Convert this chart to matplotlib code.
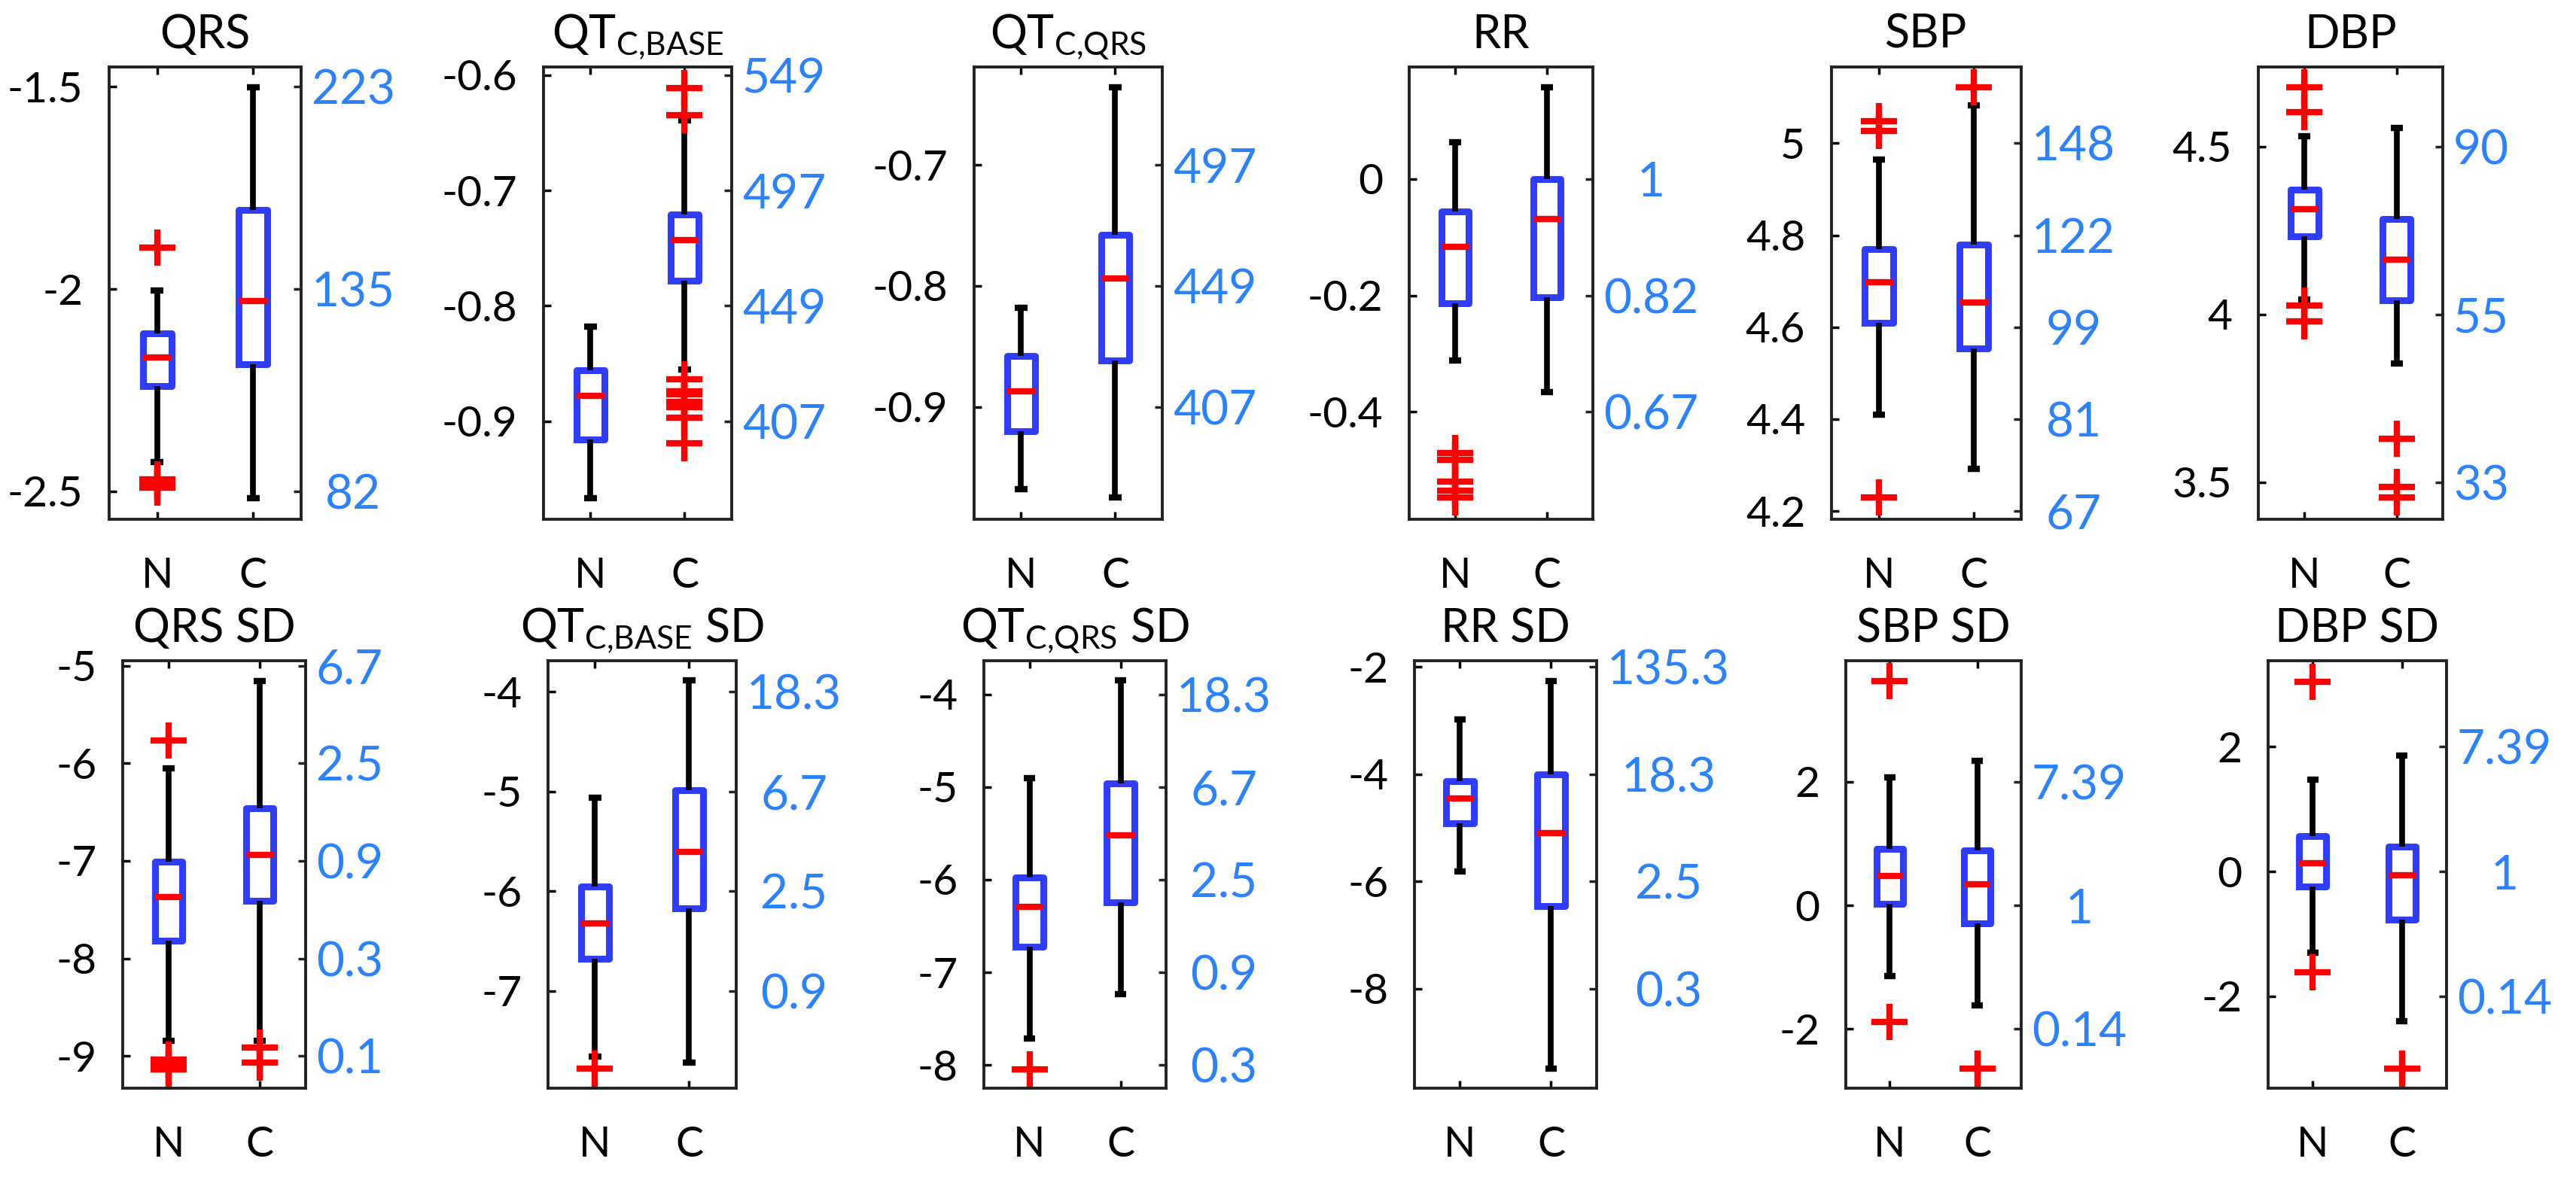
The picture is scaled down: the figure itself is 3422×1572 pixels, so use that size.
import matplotlib
matplotlib.use('Agg')
import matplotlib.pyplot as plt

plt.rcParams['font.family'] = ['Lato', 'DejaVu Sans']
plt.rcParams['mathtext.fontset'] = 'custom'
plt.rcParams['mathtext.rm'] = 'Lato'
plt.rcParams['mathtext.it'] = 'Lato'
plt.rcParams['axes.unicode_minus'] = False

groups = ['N', 'C']

# box stats per group: whisker low, q1, median, q3, whisker high (log scale)
QRS_N = [-2.428, -2.239, -2.169, -2.109, -2.004]
QRS_N_OUT = [-1.897, -2.47, -2.48, -2.49]
QRS_C = [-2.516, -2.186, -2.030, -1.804, -1.501]
QRS_C_OUT = []

QTB_N = [-0.967, -0.916, -0.878, -0.856, -0.818]
QTB_N_OUT = []
QTB_C = [-0.855, -0.778, -0.743, -0.721, -0.639]
QTB_C_OUT = [-0.611, -0.635, -0.864, -0.874, -0.877, -0.883, -0.888, -0.897, -0.919]

QTQ_N = [-0.968, -0.920, -0.887, -0.858, -0.818]
QTQ_N_OUT = []
QTQ_C = [-0.975, -0.862, -0.794, -0.758, -0.636]
QTQ_C_OUT = []

RR_N = [-0.311, -0.213, -0.116, -0.056, 0.063]
RR_N_OUT = [-0.471, -0.482, -0.519, -0.535, -0.546]
RR_C = [-0.366, -0.203, -0.069, 0.0, 0.157]
RR_C_OUT = []

SBP_N = [4.409, 4.610, 4.698, 4.769, 4.965]
SBP_N_OUT = [5.048, 5.027, 4.229]
SBP_C = [4.291, 4.553, 4.653, 4.780, 5.082]
SBP_C_OUT = [5.122]

DBP_N = [4.043, 4.232, 4.312, 4.372, 4.530]
DBP_N_OUT = [4.676, 4.603, 4.025, 3.978]
DBP_C = [3.854, 4.041, 4.163, 4.284, 4.555]
DBP_C_OUT = [3.628, 3.485, 3.453]

QRSSD_N = [-8.849, -7.815, -7.371, -7.004, -6.050]
QRSSD_N_OUT = [-5.768, -9.042, -9.089, -9.139]
QRSSD_C = [-8.849, -7.409, -6.942, -6.463, -5.151]
QRSSD_C_OUT = [-8.915, -9.069]

QTBSD_N = [-7.660, -6.679, -6.321, -5.951, -5.064]
QTBSD_N_OUT = [-7.781]
QTBSD_C = [-7.717, -6.170, -5.604, -4.985, -3.887]
QTBSD_C_OUT = []

QTQSD_N = [-7.710, -6.723, -6.292, -5.972, -4.908]
QTQSD_N_OUT = [-8.043]
QTQSD_C = [-7.234, -6.240, -5.525, -4.960, -3.852]
QTQSD_C_OUT = []

RRSD_N = [-5.811, -4.919, -4.449, -4.133, -2.975]
RRSD_N_OUT = []
RRSD_C = [-9.495, -6.463, -5.095, -4.007, -2.253]
RRSD_C_OUT = []

SBPSD_N = [-1.146, 0.030, 0.470, 0.915, 2.073]
SBPSD_N_OUT = [3.628, -1.896]
SBPSD_C = [-1.616, -0.293, 0.341, 0.896, 2.341]
SBPSD_C_OUT = [-2.652]

DBPSD_N = [-1.297, -0.247, 0.133, 0.567, 1.478]
DBPSD_N_OUT = [3.047, -1.617]
DBPSD_C = [-2.401, -0.772, -0.060, 0.404, 1.864]
DBPSD_C_OUT = [-3.167]

titles = ['QRS', r'QT$_{\mathrm{C{,}BASE}}$', r'QT$_{\mathrm{C{,}QRS}}$', 'RR', 'SBP', 'DBP',
          'QRS SD', r'QT$_{\mathrm{C{,}BASE}}$ SD', r'QT$_{\mathrm{C{,}QRS}}$ SD', 'RR SD', 'SBP SD', 'DBP SD']

stats_N = [QRS_N, QTB_N, QTQ_N, RR_N, SBP_N, DBP_N, QRSSD_N, QTBSD_N, QTQSD_N, RRSD_N, SBPSD_N, DBPSD_N]
out_N = [QRS_N_OUT, QTB_N_OUT, QTQ_N_OUT, RR_N_OUT, SBP_N_OUT, DBP_N_OUT,
         QRSSD_N_OUT, QTBSD_N_OUT, QTQSD_N_OUT, RRSD_N_OUT, SBPSD_N_OUT, DBPSD_N_OUT]
stats_C = [QRS_C, QTB_C, QTQ_C, RR_C, SBP_C, DBP_C, QRSSD_C, QTBSD_C, QTQSD_C, RRSD_C, SBPSD_C, DBPSD_C]
out_C = [QRS_C_OUT, QTB_C_OUT, QTQ_C_OUT, RR_C_OUT, SBP_C_OUT, DBP_C_OUT,
         QRSSD_C_OUT, QTBSD_C_OUT, QTQSD_C_OUT, RRSD_C_OUT, SBPSD_C_OUT, DBPSD_C_OUT]

ylims = [(-2.569, -1.451), (-0.985, -0.593), (-0.993, -0.619), (-0.584, 0.192), (4.182, 5.166), (3.389, 4.737),
         (-9.332, -4.946), (-7.974, -3.687), (-8.250, -3.637), (-9.853, -1.881), (-2.963, 3.963), (-3.475, 3.379)]

left_ticks = [[-2.5, -2, -1.5], [-0.9, -0.8, -0.7, -0.6], [-0.9, -0.8, -0.7], [-0.4, -0.2, 0],
              [4.2, 4.4, 4.6, 4.8, 5], [3.5, 4, 4.5],
              [-9, -8, -7, -6, -5], [-7, -6, -5, -4], [-8, -7, -6, -5, -4], [-8, -6, -4, -2],
              [-2, 0, 2], [-2, 0, 2]]

right_labels = [['82', '135', '223'], ['407', '449', '497', '549'], ['407', '449', '497'], ['0.67', '0.82', '1'],
                ['67', '81', '99', '122', '148'], ['33', '55', '90'],
                ['0.1', '0.3', '0.9', '2.5', '6.7'], ['0.9', '2.5', '6.7', '18.3'], ['0.3', '0.9', '2.5', '6.7', '18.3'],
                ['0.3', '2.5', '18.3', '135.3'], ['0.14', '1', '7.39'], ['0.14', '1', '7.39']]

# layout (pixels in the 3423x1572 figure)
W, H = 3423, 1572
xspans = [(145, 400), (722, 972), (1294, 1544), (1872, 2116), (2433, 2685), (3000, 3245),
          (163, 406), (728, 978), (1307, 1549), (1879, 2121), (2452, 2685), (3013, 3250)]
yspans = [(89, 690)] * 6 + [(878, 1446)] * 6

BOX_BLUE = '#2f3dff'
LAB_BLUE = '#2a82ff'

fig = plt.figure(figsize=(W / 100, H / 100), dpi=100)
twins = []
for i in range(12):
    x0, x1 = xspans[i]
    y0, y1 = yspans[i]
    ax = fig.add_axes([x0 / W, 1 - y1 / H, (x1 - x0) / W, (y1 - y0) / H])
    bstats = []
    for g, s, o in zip(groups, [stats_N[i], stats_C[i]], [out_N[i], out_C[i]]):
        bstats.append(dict(label=g, whislo=s[0], q1=s[1], med=s[2], q3=s[3], whishi=s[4], fliers=o))
    ax.bxp(bstats, positions=[1, 2], widths=0.3, capwidths=0.13,
           boxprops=dict(color=BOX_BLUE, lw=6.5),
           whiskerprops=dict(color='k', lw=5.5, solid_capstyle='butt'),
           capprops=dict(color='k', lw=6, solid_capstyle='butt'),
           medianprops=dict(color='red', lw=6, solid_capstyle='butt'),
           flierprops=dict(marker='+', markeredgecolor='red', markersize=34, markeredgewidth=6, linestyle='none'))
    ax.set_xlim(0.5, 2.5)
    ax.set_ylim(*ylims[i])
    ax.set_yticks(left_ticks[i])
    ax.set_yticklabels(['%g' % t for t in left_ticks[i]])
    ax.set_xticks([1, 2])
    ax.set_xticklabels(groups)
    for sp in ax.spines.values():
        sp.set_linewidth(2.8)
        sp.set_color('#222222')
    ax.tick_params(axis='y', direction='in', left=True, right=False, length=7, width=2.5,
                   labelsize=41, pad=25)
    ax.tick_params(axis='x', direction='in', top=True, bottom=True, length=7, width=2.5,
                   labelsize=40, pad=36)
    ax.set_title(titles[i], fontsize=44, pad=18)

    ax2 = ax.twinx()
    ax2.set_ylim(*ylims[i])
    ax2.set_yticks(left_ticks[i])
    ax2.set_yticklabels(right_labels[i])
    ax2.tick_params(axis='y', direction='in', length=7, width=2.5, labelsize=46,
                    labelcolor=LAB_BLUE, color='#222222')
    for sp in ax2.spines.values():
        sp.set_visible(False)
    twins.append(ax2)

# centre the blue labels, like the original
fig.canvas.draw()
r = fig.canvas.get_renderer()
for ax2 in twins:
    labs = ax2.get_yticklabels()
    w = max(t.get_window_extent(r).width for t in labs)
    ax2.tick_params(axis='y', pad=10 + w / 2 * 0.72)
    plt.setp(ax2.get_yticklabels(), ha='center')

plt.savefig('out.png', dpi=100)
